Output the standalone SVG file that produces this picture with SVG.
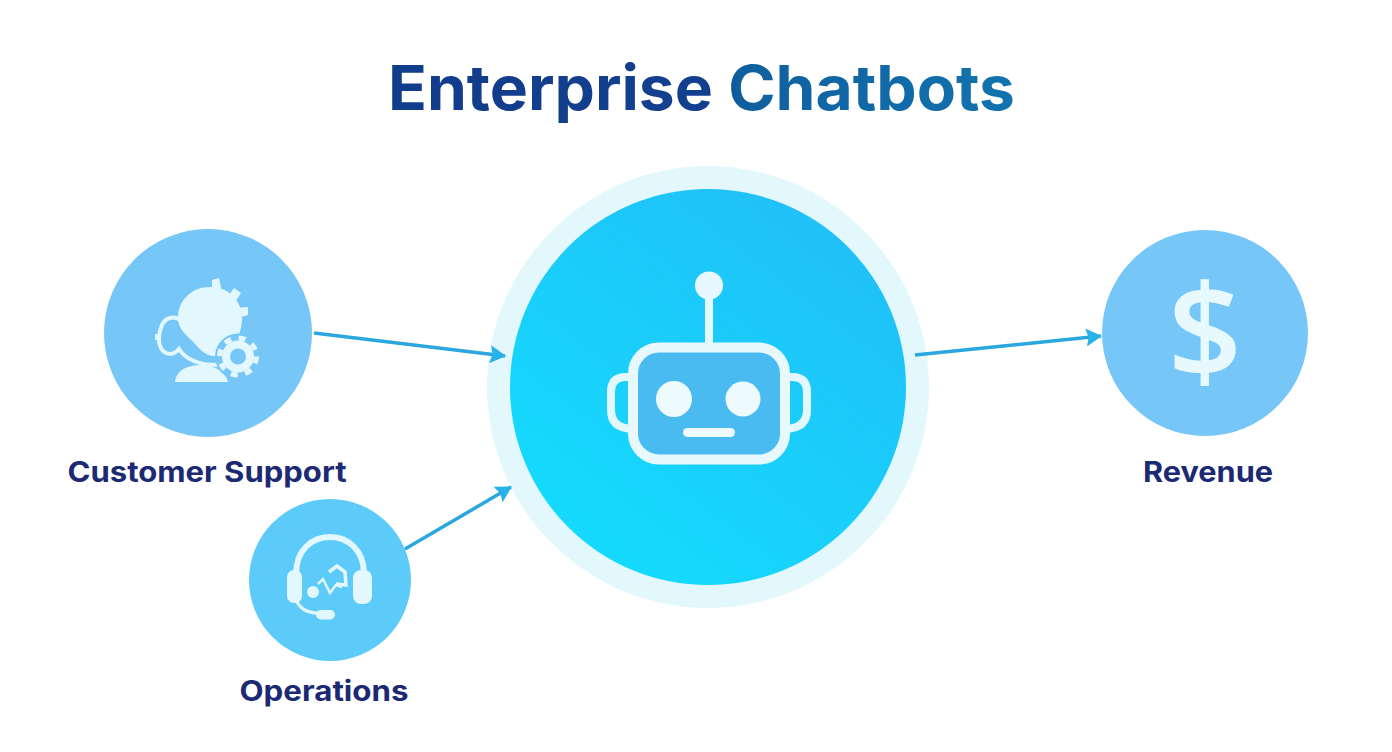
<svg xmlns="http://www.w3.org/2000/svg" width="1392" height="752" viewBox="0 0 1392 752">
<defs>
<linearGradient id="titleGrad" gradientUnits="userSpaceOnUse" x1="388" y1="0" x2="1015" y2="0"><stop offset="0" stop-color="#123c8c"/><stop offset="0.52" stop-color="#12408f"/><stop offset="0.56" stop-color="#105f9f"/><stop offset="1" stop-color="#1273ae"/></linearGradient>
<linearGradient id="hubGrad" x1="0.2" y1="0.95" x2="0.85" y2="0.1"><stop offset="0" stop-color="#14dbfd"/><stop offset="1" stop-color="#20c0f8"/></linearGradient>
<marker id="arrow" viewBox="0 0 16 18" refX="15" refY="9" markerWidth="16" markerHeight="18" markerUnits="userSpaceOnUse" orient="auto"><path d="M0 0L16 9L0 18L2.500 9Z" fill="#27b2e8"/></marker>
</defs>
<style>
.lbl{font-family:Inter,"Liberation Sans",sans-serif;font-weight:700;font-size:28px;fill:#1b2a73;text-anchor:middle}
.ic{fill:#e2f7fe}
.ln{fill:none;stroke:#e2f7fe}
.con{stroke:#2ba7e0;stroke-width:3.500;fill:none;marker-end:url(#arrow)}
</style>
<rect width="1392" height="752" fill="#ffffff"/>
<text id="title" x="701.5" y="110" text-anchor="middle" font-family="Inter,'Liberation Sans',sans-serif" font-weight="700" font-size="62" textLength="627" lengthAdjust="spacingAndGlyphs" fill="url(#titleGrad)">Enterprise Chatbots</text>
<g id="hub">
<circle cx="708" cy="387" r="221" fill="#e2f8fd"/>
<circle cx="708" cy="387" r="198" fill="url(#hubGrad)"/>
<path d="M709 285V345" stroke="#e4f8fe" stroke-width="8" fill="none"/>
<circle cx="709" cy="285.500" r="14" fill="#e8f8fe"/>
<path class="ln" stroke-width="8" d="M632 377H626Q611 377 611 392V410Q611 428 632 429"/>
<path class="ln" stroke-width="8" d="M786 377H792Q807 377 807 392V410Q807 428 786 429"/>
<rect x="633" y="347.500" width="152" height="112" rx="26" fill="#49bbf0" stroke="#e8f9fe" stroke-width="10"/>
<circle cx="674" cy="399" r="18" fill="#edfafe"/>
<circle cx="743" cy="399" r="17.500" fill="#edfafe"/>
<rect x="683" y="428" width="52" height="9" rx="4.500" fill="#edfafe"/>
</g>
<g id="customer-support">
<circle cx="208" cy="333" r="104" fill="#76c7f7"/>
<path class="ic" d="M210 287C230 287 242 302 242 318C242 336 232 350 220 355C210 358 204 354 196 345C188 336 178 330 178 318C178 300 192 287 210 287Z"/>
<path class="ic" d="M212 292L212 280L219 278L222 292ZM227 298L234 288L241 293L234 304ZM236 308L248 307L248 315L238 318Z"/>
<path class="ln" stroke-width="4" d="M181 321C176 316 166 316 162 325C157 337 158 349 166 353C171 355 176 353 179 349C186 360 198 365 218 365"/>
<path class="ic" d="M155 334h6v6h-6z"/>
<path class="ic" d="M175 382C176 370 188 365 201 365C214 365 226 372 228 382Z"/>
<circle cx="238" cy="356.500" r="23" fill="#76c7f7"/>
<circle cx="238" cy="356.500" r="12" fill="none" stroke="#e2f7fe" stroke-width="8"/>
<circle cx="238" cy="356.500" r="18.500" fill="none" stroke="#e2f7fe" stroke-width="5" stroke-dasharray="7 7.530"/>
</g>
<g id="operations">
<circle cx="330" cy="580" r="81" fill="#5ccbf9"/>
<path class="ln" stroke-width="6" d="M296 574C296 550 312 537 330 537C348 537 364 550 364 574"/>
<rect x="287" y="570" width="15" height="33" rx="7" fill="#e2f7fe"/>
<rect x="353" y="570" width="19" height="34" rx="8" fill="#e2f7fe"/>
<path class="ln" stroke-width="3" d="M296 600Q302 613 318 613"/>
<rect x="316" y="610" width="19" height="9.500" rx="4.700" fill="#e2f7fe"/>
<circle cx="313" cy="592" r="6" fill="#e2f7fe"/>
<path class="ln" stroke-width="2.500" d="M318 584L323 579L330 593L336 585L342 587"/>
<path class="ln" stroke-width="3.500" d="M329 572L337 566L345 572L346 585L336 584"/>
</g>
<g id="revenue">
<circle cx="1205" cy="333" r="103" fill="#76c7f7"/>
<text x="1205" y="378" text-anchor="middle" font-family="'Open Sans','Liberation Sans',sans-serif" font-weight="600" font-size="130" fill="#e8f9fe">$</text>
</g>
<g id="connectors">
<path class="con" d="M314 333L505 356"/>
<path class="con" d="M405 549L511 487"/>
<path class="con" d="M915 355L1101 336"/>
</g>
<text class="lbl" x="207" y="482" textLength="279" lengthAdjust="spacingAndGlyphs">Customer Support</text>
<text class="lbl" x="324" y="701" textLength="169" lengthAdjust="spacingAndGlyphs">Operations</text>
<text class="lbl" x="1208" y="482" textLength="130" lengthAdjust="spacingAndGlyphs">Revenue</text>
</svg>
